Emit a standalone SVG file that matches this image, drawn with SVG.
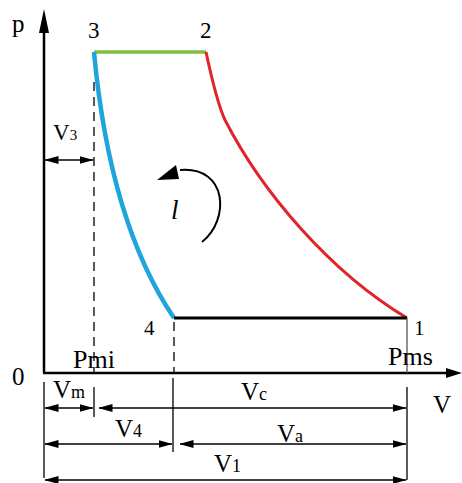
<svg xmlns="http://www.w3.org/2000/svg" width="462" height="483" viewBox="0 0 462 483">
<defs>
<style>
.dim{stroke:#000;stroke-width:1.6;fill:none}
.ext{stroke:#000;stroke-width:1.3;fill:none}
.dash{stroke:#000;stroke-width:1.3;stroke-dasharray:9,6;fill:none}
</style>
<marker id="ah" viewBox="0 0 14 8" refX="13.5" refY="4" markerWidth="14" markerHeight="8" markerUnits="userSpaceOnUse" orient="auto-start-reverse">
<path d="M0,0 L14,4 L0,8 Z" fill="#000"/>
</marker>
</defs>
<rect width="462" height="483" fill="#fff"/>

<g id="axes">
<line x1="44" y1="373" x2="44" y2="30" stroke="#000" stroke-width="2.5"/>
<path d="M44,9 L39,33 L49,33 Z" fill="#000"/>
<line x1="43" y1="373" x2="448" y2="373" stroke="#000" stroke-width="2.5"/>
<path d="M462,373 L446,368 L446,378 Z" fill="#000"/>
<text font-family="Liberation Serif" font-size="25" x="12" y="32">p</text>
<text font-family="Liberation Serif" font-size="25" x="12" y="385">0</text>
<text font-family="Liberation Serif" font-size="25" x="433" y="413">V</text>
</g>

<g id="connectors">
<path id="e32" d="M94,52 L206,52" stroke="#7dc142" stroke-width="3.5" fill="none"/>
<path id="e21" d="M206,52 C212,80 218,105 225,120 C262,192 330,272 407,318" stroke="#e0242a" stroke-width="3" fill="none"/>
<path id="e34" d="M94,52 C104,160 128,250 174,318" stroke="#1ea6dc" stroke-width="4.5" fill="none"/>
<path id="e41" d="M174,318 L407,318" stroke="#000" stroke-width="3" fill="none"/>
<path d="M202,242 C230,220 228,166 180,170" stroke="#000" stroke-width="2" fill="none"/>
<path d="M157,180 L176,165 L179,179 Z" fill="#000"/>
</g>

<g id="guides">
<line class="dash" x1="94" y1="82" x2="94" y2="372"/>
<line class="dash" x1="174" y1="322" x2="174" y2="372"/>
<line x1="407" y1="318" x2="407" y2="373" stroke="#555" stroke-width="1.3"/>
</g>

<g id="n3"><text font-family="Liberation Serif" font-size="23" x="88" y="38">3</text></g>
<g id="n2"><text font-family="Liberation Serif" font-size="23" x="200" y="38">2</text></g>
<g id="n4"><text font-family="Liberation Serif" font-size="21" x="144" y="335">4</text></g>
<g id="n1"><text font-family="Liberation Serif" font-size="21" x="414" y="335">1</text></g>
<g id="pmi"><text font-family="Liberation Serif" font-size="26" x="73" y="368">Pmi</text></g>
<g id="pms"><text font-family="Liberation Serif" font-size="26" x="388" y="365">Pms</text></g>
<g id="cycle"><text font-family="Liberation Serif" font-size="27" font-style="italic" x="171" y="219">l</text></g>

<g id="dimV3">
<line class="dim" x1="45" y1="160" x2="93" y2="160" marker-start="url(#ah)" marker-end="url(#ah)"/>
<text font-family="Liberation Serif" font-size="23" x="53" y="140">V<tspan font-size="15">3</tspan></text>
</g>

<g id="dims">
<line class="ext" x1="44" y1="382" x2="44" y2="478"/>
<line class="ext" x1="94" y1="387" x2="94" y2="417"/>
<line class="ext" x1="173" y1="378" x2="173" y2="452"/>
<line class="ext" x1="407" y1="387" x2="407" y2="480"/>

<line class="dim" x1="45" y1="408" x2="93" y2="408" marker-start="url(#ah)" marker-end="url(#ah)"/>
<text font-family="Liberation Serif" font-size="25" x="53" y="398">V<tspan font-size="18">m</tspan></text>

<line class="dim" x1="99" y1="408" x2="406" y2="408" marker-start="url(#ah)" marker-end="url(#ah)"/>
<text font-family="Liberation Serif" font-size="25" x="241" y="400">V<tspan font-size="18">c</tspan></text>

<line class="dim" x1="45" y1="444" x2="172" y2="444" marker-start="url(#ah)" marker-end="url(#ah)"/>
<text font-family="Liberation Serif" font-size="25" x="115" y="437">V<tspan font-size="18">4</tspan></text>

<line class="dim" x1="180" y1="444" x2="406" y2="444" marker-start="url(#ah)" marker-end="url(#ah)"/>
<text font-family="Liberation Serif" font-size="25" x="277" y="442">V<tspan font-size="18">a</tspan></text>

<line class="dim" x1="45" y1="480" x2="406" y2="480" marker-start="url(#ah)" marker-end="url(#ah)"/>
<text font-family="Liberation Serif" font-size="25" x="214" y="472">V<tspan font-size="18">1</tspan></text>
</g>
</svg>
